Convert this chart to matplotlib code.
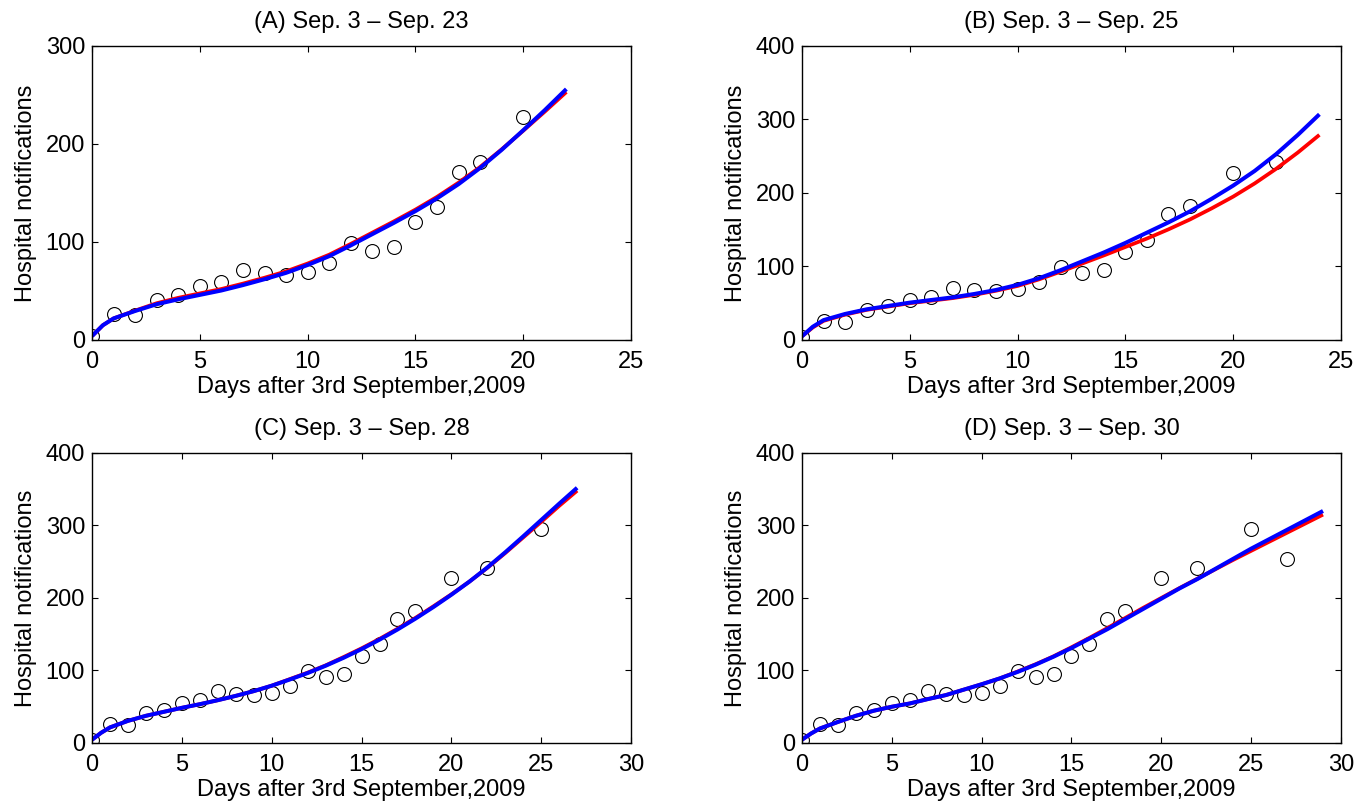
import matplotlib
matplotlib.use("Agg")
import matplotlib.pyplot as plt

plt.rcParams['font.family'] = ['Liberation Sans', 'DejaVu Sans']


# Observed hospital notifications (days after 3rd September 2009)
obs_days = [0, 1, 2, 3, 4, 5, 6, 7, 8, 9, 10, 11, 12, 13, 14, 15, 16, 17, 18, 20, 22, 25, 27]
obs_vals = [4, 26, 25, 41, 46, 55, 59, 71, 68, 66, 69, 79, 99, 91, 95, 120, 136, 171, 182, 227, 242, 295, 254]

# Fitted curves (red and blue model fits)
fit_days_A = [0, 0.5, 1, 2, 3, 4, 5, 6, 7, 8, 9, 10, 11, 12, 13, 14, 15, 16, 17, 18, 19, 20, 21, 22]
red_A = [4, 15, 22, 30, 37.5, 43, 47.5, 52, 57.5, 63.5, 70, 78, 87, 98, 109.5, 121, 133, 146, 160.5, 176.5, 194.5, 213.5, 233, 253]
blue_A = [4, 15, 22, 29.6, 36.5, 41.5, 46, 50.5, 56, 62, 68.5, 76.5, 85.5, 96.5, 108, 119.5, 131.5, 144.5, 159, 175.5, 194, 214, 234.5, 256]

fit_days_B = [0, 0.5, 1, 2, 3, 4, 5, 6, 7, 8, 9, 10, 11, 12, 13, 14, 15, 16, 17, 18, 19, 20, 21, 22, 23, 24]
red_B = [5, 17, 26, 34.5, 41, 45.5, 50, 53.5, 57, 61.5, 67, 73.5, 82.5, 93, 104, 115, 126.5, 138, 150.5, 164, 179, 195, 213, 233, 255, 279]
blue_B = [5, 18, 27, 35.4, 41.7, 46.3, 50.8, 54.4, 58, 62.6, 68, 75, 84, 95, 107, 119, 132, 146, 160, 175, 192, 210, 230, 253, 279, 307]

fit_days_C = [0, 0.5, 1, 2, 3, 4, 5, 6, 7, 8, 9, 10, 11, 12, 13, 14, 15, 16, 17, 18, 19, 20, 21, 22, 23, 24, 25, 26, 27]
red_C = [4.5, 14, 21.5, 30.5, 37.5, 43, 48.5, 53.5, 59, 65, 71.5, 79, 88, 97, 107, 118.5, 130.5, 143.5, 157.5, 172.5, 188.5, 205, 222.5, 241.5, 262, 283.5, 305, 327, 348]
blue_C = [4.5, 14, 21.5, 30.5, 37.5, 43, 48.5, 53.5, 59, 65, 71.5, 79, 87.5, 96.5, 106.5, 117.5, 129.5, 142.5, 156.5, 171.5, 187.5, 204.5, 222.5, 242, 263, 285, 307.5, 330, 352]

fit_days_D = [0, 0.5, 1, 2, 3, 4, 5, 6, 7, 8, 9, 10, 11, 12, 13, 14, 15, 16, 17, 18, 19, 20, 21, 22, 23, 24, 25, 26, 27, 28, 29]
red_D = [4.5, 13, 20, 29, 37.5, 44.5, 50, 54.5, 60.5, 66, 73.5, 81, 89, 98.5, 108.5, 119.5, 132, 145, 158.5, 172.5, 186.5, 200, 213.5, 226.5, 239.5, 252.5, 265, 277.5, 290, 302.5, 315]
blue_D = [4.5, 13, 20, 29, 37.5, 44.5, 50, 54.5, 60.5, 66, 73.5, 81, 89, 98, 108, 119, 131, 144, 157, 171, 185, 199, 213, 226, 240, 254, 268, 281, 294, 307, 320]

titles = ["(A) Sep. 3 \u2013 Sep. 23", "(B) Sep. 3 \u2013 Sep. 25",
          "(C) Sep. 3 \u2013 Sep. 28", "(D) Sep. 3 \u2013 Sep. 30"]
last_obs_day = [20, 22, 25, 27]
x_max = [25, 25, 30, 30]
y_max = [300, 400, 400, 400]


fig = plt.figure(figsize=(13.7, 8.06), dpi=100)

# Axes positions in figure fractions (left, bottom, width, height)
positions = [(0.0672, 0.5782, 0.3934, 0.3648),
             (0.5854, 0.5782, 0.3934, 0.3648),
             (0.0672, 0.0782, 0.3934, 0.3598),
             (0.5854, 0.0782, 0.3934, 0.3598)]

fits = [(fit_days_A, red_A, blue_A), (fit_days_B, red_B, blue_B),
        (fit_days_C, red_C, blue_C), (fit_days_D, red_D, blue_D)]

for i in range(4):
    ax = fig.add_axes(positions[i])

    # Observed data first, fits are drawn on top
    xs = [d for d in obs_days if d <= last_obs_day[i]]
    ys = obs_vals[:len(xs)]
    ax.plot(xs, ys, "o", markerfacecolor="none", markeredgecolor="black",
            markersize=10, markeredgewidth=0.8, linestyle="none")

    days, red, blue = fits[i]
    ax.plot(days, red, color="#ff0000", linewidth=2.7, solid_capstyle="butt")
    ax.plot(days, blue, color="#0000ff", linewidth=2.9, solid_capstyle="butt")

    ax.set_xlim(0, x_max[i])
    ax.set_ylim(0, y_max[i])
    ax.set_xticks(range(0, x_max[i] + 1, 5))
    ax.set_yticks(range(0, y_max[i] + 1, 100))

    # MATLAB-like box with inward ticks on every side
    ax.tick_params(direction="in", length=4, width=0.8, top=True, right=True, labelsize=17)
    ax.tick_params(axis="x", pad=8)
    ax.tick_params(axis="y", pad=5)
    for s in ax.spines.values():
        s.set_linewidth(1.0)

    ax.set_title(titles[i], fontsize=17, pad=13)
    ax.set_xlabel("Days after 3rd September,2009", fontsize=17, labelpad=2)
    ax.set_ylabel("Hospital notifications", fontsize=17, labelpad=6)

fig.savefig("out.png", dpi=100)
